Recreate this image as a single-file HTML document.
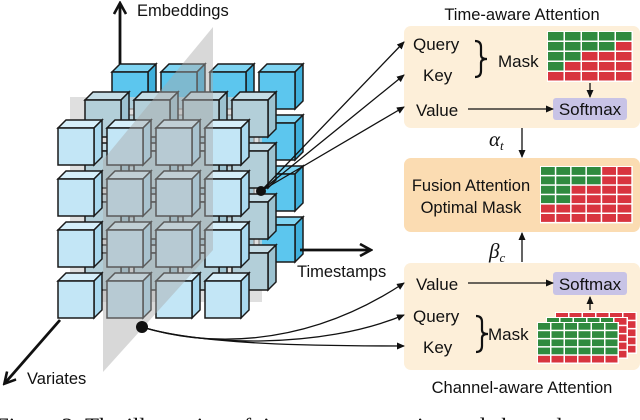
<!DOCTYPE html>
<html><head><meta charset="utf-8"><style>
html,body{margin:0;padding:0;background:#fff;width:640px;height:420px;overflow:hidden}
svg{display:block}
text{font-family:"Liberation Sans",sans-serif;fill:#111}
</style></head><body>
<svg id="s" width="640" height="420" viewBox="0 0 640 420" xmlns="http://www.w3.org/2000/svg">
<defs>
<marker id="ah" markerWidth="8" markerHeight="8" refX="7" refY="4" orient="auto" markerUnits="userSpaceOnUse"><path d="M0,0.5 L8,4 L0,7.5 z" fill="#111"/></marker>
<marker id="ab" markerWidth="14" markerHeight="14" refX="11" refY="7" orient="auto" markerUnits="userSpaceOnUse"><path d="M1,1 L12,7 L1,13" fill="none" stroke="#111" stroke-width="2.6"/></marker>
</defs>
<g id="cubes"></g>
<line x1="120" y1="64" x2="120" y2="4" stroke="#111" stroke-width="2.8" marker-end="url(#ab)"/>
<text x="137" y="16" font-size="16.5">Embeddings</text>
<line x1="300" y1="250" x2="370" y2="250" stroke="#111" stroke-width="2.8" marker-end="url(#ab)"/>
<text x="297" y="277" font-size="16.5">Timestamps</text>
<line x1="60" y1="320" x2="5" y2="383" stroke="#111" stroke-width="2.8" marker-end="url(#ab)"/>
<text x="27" y="384" font-size="16.5">Variates</text>
<rect x="404" y="26" width="236" height="102" rx="7" fill="#fdefd9"/>
<rect x="404" y="158" width="236" height="74" rx="7" fill="#fbdcb2"/>
<rect x="404" y="263" width="236" height="107" rx="7" fill="#fdefd9"/>
<text x="522" y="20" font-size="16.5" text-anchor="middle">Time-aware Attention</text>
<text x="522" y="393" font-size="16.5" text-anchor="middle">Channel-aware Attention</text>
<text x="413" y="50" font-size="17">Query</text>
<text x="423" y="81" font-size="17">Key</text>
<path d="M475,41 q6,0 6,6 v8 q0,4 6,4 q-6,0 -6,4 v8 q0,6 -6,6" fill="none" stroke="#111" stroke-width="2.2"/>
<text x="498" y="67" font-size="17">Mask</text>
<text x="416" y="116" font-size="17">Value</text>
<rect x="553" y="98" width="74" height="22" rx="3" fill="#c8c3e6"/>
<text x="590" y="115" font-size="17" text-anchor="middle">Softmax</text>
<line x1="468" y1="109" x2="553" y2="109" stroke="#111" stroke-width="1.3" marker-end="url(#ah)"/>
<line x1="590" y1="83" x2="590" y2="97" stroke="#111" stroke-width="1.3" marker-end="url(#ah)"/>
<text x="489" y="146" font-size="21" font-style="italic" style="font-family:'Liberation Serif',serif">α<tspan font-size="13" dy="4">t</tspan></text>
<line x1="522" y1="128" x2="522" y2="157" stroke="#111" stroke-width="1.3" marker-end="url(#ah)"/>
<text x="471" y="191" font-size="16.5" text-anchor="middle">Fusion Attention</text>
<text x="471" y="213" font-size="16.5" text-anchor="middle">Optimal Mask</text>
<text x="489" y="258" font-size="21" font-style="italic" style="font-family:'Liberation Serif',serif">β<tspan font-size="13" dy="4">c</tspan></text>
<line x1="522" y1="262" x2="522" y2="233" stroke="#111" stroke-width="1.3" marker-end="url(#ah)"/>
<text x="416" y="290" font-size="17">Value</text>
<rect x="553" y="272" width="74" height="23" rx="3" fill="#c8c3e6"/>
<text x="590" y="290" font-size="17" text-anchor="middle">Softmax</text>
<line x1="468" y1="283" x2="553" y2="283" stroke="#111" stroke-width="1.3" marker-end="url(#ah)"/>
<line x1="590" y1="310" x2="590" y2="297" stroke="#111" stroke-width="1.3" marker-end="url(#ah)"/>
<text x="413" y="322" font-size="17">Query</text>
<text x="423" y="353" font-size="17">Key</text>
<path d="M476,316 q6,0 6,6 v8 q0,4 6,4 q-6,0 -6,4 v8 q0,6 -6,6" fill="none" stroke="#111" stroke-width="2.2"/>
<text x="488" y="340" font-size="17">Mask</text>
<g id="grids"></g>
<g stroke="#111" stroke-width="1.3" fill="none">
<line x1="261" y1="191" x2="404" y2="42" marker-end="url(#ah)"/>
<line x1="261" y1="191" x2="404" y2="75" marker-end="url(#ah)"/>
<line x1="261" y1="191" x2="404" y2="107" marker-end="url(#ah)"/>
<path d="M142,327 C200,345 300,352 404,283" marker-end="url(#ah)"/>
<path d="M142,327 C200,345 320,350 404,315" marker-end="url(#ah)"/>
<path d="M142,327 C200,345 320,346 404,346" marker-end="url(#ah)"/>
</g>
<circle cx="261" cy="191" r="5" fill="#111"/>
<circle cx="142" cy="327" r="6" fill="#111"/>
<text x="-4" y="434" font-size="23" style="font-family:'Liberation Serif',serif">Figure 2: The illustration of time-aware attention and channel</text>
</svg>
<script>
var NS="http://www.w3.org/2000/svg";
function el(p,t,a){var e=document.createElementNS(NS,t);for(var k in a)e.setAttribute(k,a[k]);p.appendChild(e);return e;}
var g=document.getElementById("cubes");
function cube(x,y,f,t,s){
 var st={stroke:"#1a1a1a","stroke-width":"1.5"};
 el(g,"polygon",Object.assign({points:[x,y,x+8,y-8,x+44,y-8,x+36,y].join(","),fill:t},st));
 el(g,"polygon",Object.assign({points:[x+36,y,x+44,y-8,x+44,y+29,x+36,y+37].join(","),fill:s},st));
 el(g,"rect",Object.assign({x:x,y:y,width:36,height:37,fill:f},st));
}
var i,j;
for(i=0;i<4;i++)for(j=3;j>=0;j--)cube(112+j*49,72+i*51,"#5cc6ee","#7fd4f2","#3fb0dc");
el(g,"rect",{x:70,y:97,width:192,height:205,fill:"#d2d2d2",opacity:"0.7"});
for(i=0;i<4;i++)for(j=3;j>=0;j--)cube(85+j*49,100+i*51,"#b3cfd9","#c5dde6","#9cc2d0");
for(i=0;i<4;i++)for(j=3;j>=0;j--)cube(58+j*49,128+i*51,"#c3e6f6","#d6effa","#a9d9ef");
el(g,"polygon",{points:"103,160 213,27 213,250 103,372",fill:"#a8a8a8",opacity:"0.45"});
var G="#2f8a3f",R="#d8343f",gg=document.getElementById("grids");
function grid(x,y,cols,rows,cw,ch,pat){
 el(gg,"rect",{x:x-1,y:y-1,width:cols*cw+1,height:rows*ch+1,fill:"#fff"});
 for(var r=0;r<rows;r++)for(var c=0;c<cols;c++)
  el(gg,"rect",{x:x+c*cw,y:y+r*ch,width:cw-1.5,height:ch-1.5,fill:c<pat[r]?G:R});
}
grid(548,32,5,5,17,10,[5,4,2,1,0]);
grid(541,167,6,6,15.3,9.4,[4,4,2,2,0,0]);
grid(556,313,6,5,13.5,8.2,[0,4,3,2,0]);
grid(547,318,6,5,13.5,8.2,[5,4,3,2,0]);
grid(538,323,6,5,13.5,8.2,[6,6,6,6,0]);
</script>
</body></html>
